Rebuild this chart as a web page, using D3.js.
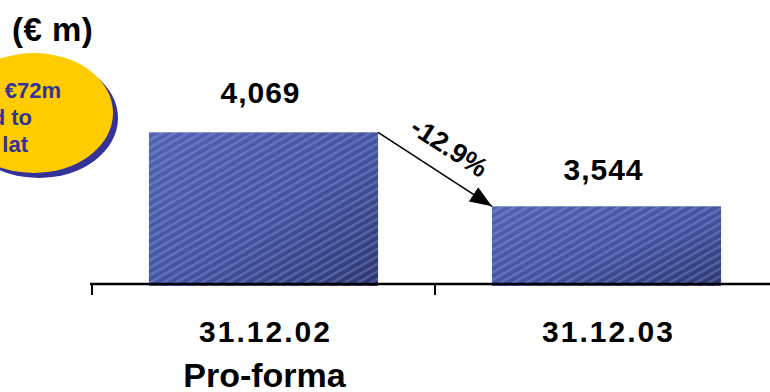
<!DOCTYPE html>
<html>
<head>
<meta charset="utf-8">
<script src="https://cdn.jsdelivr.net/npm/d3@7"></script>
<style>
  html, body { margin: 0; padding: 0; background: #fff; }
  svg { display: block; font-family: Arial, "Liberation Sans", sans-serif; }
</style>
</head>
<body>
<svg id="chart" width="770" height="392"></svg>
<script>
// Gross loans (€ m) at the two reporting dates
const categories = ["31.12.02", "31.12.03"];
const subLabels = ["Pro-forma", ""];
const values = [4069, 3544];
const valueLabels = ["4,069", "3,544"];
const changeLabel = "-12.9%";
const unitLabel = "(€ m)";
const noteLines = ["€72m", "d to", "lat"];

const svg = d3.select("#chart");
const W = 770, H = 392;

const x = d3.scaleBand()
  .domain(categories)
  .range([92, 778])
  .paddingInner(0.332)
  .paddingOuter(0.166);

const y = d3.scaleLinear()
  .domain([3000, 4500])
  .range([283, 71.6]);

const defs = svg.append("defs");

// shaded bar body: lighter at top-left, darker towards bottom-right
const grad = defs.append("linearGradient")
  .attr("id", "barGrad")
  .attr("x1", 0).attr("y1", 0).attr("x2", 1).attr("y2", 1);
grad.append("stop").attr("offset", "0%").attr("stop-color", "#5163b3");
grad.append("stop").attr("offset", "55%").attr("stop-color", "#4253a0");
grad.append("stop").attr("offset", "100%").attr("stop-color", "#2c3670");

// fine diagonal hatching on top of the shading
const pat = defs.append("pattern")
  .attr("id", "hatch")
  .attr("patternUnits", "userSpaceOnUse")
  .attr("width", 8).attr("height", 6.5)
  .attr("patternTransform", "rotate(-30)");
pat.append("rect")
  .attr("x", 0).attr("y", 0).attr("width", 8).attr("height", 2.4)
  .attr("fill", "#a9b6ee").attr("opacity", 0.3);

const arrowHead = defs.append("marker")
  .attr("id", "arrowHead")
  .attr("viewBox", "0 0 22 17")
  .attr("refX", 22).attr("refY", 8.5)
  .attr("markerWidth", 22).attr("markerHeight", 17)
  .attr("markerUnits", "userSpaceOnUse")
  .attr("orient", "auto");
arrowHead.append("path").attr("d", "M0,0 L22,8.5 L0,17 Z").attr("fill", "#000");

// callout ellipse with drop shadow (partly beyond the left edge)
const note = svg.append("g");
note.append("ellipse")
  .attr("cx", 39).attr("cy", 118).attr("rx", 79).attr("ry", 60)
  .attr("fill", "#333399");
note.append("ellipse")
  .attr("cx", 34).attr("cy", 113).attr("rx", 79).attr("ry", 60)
  .attr("fill", "#ffcc00");
note.selectAll("text.note")
  .data(noteLines)
  .join("text")
  .attr("class", "note")
  .attr("x", (d, i) => [61, 32, 28][i])
  .attr("y", (d, i) => 98 + i * 27)
  .attr("text-anchor", "end")
  .attr("font-size", 22)
  .attr("font-weight", "bold")
  .attr("fill", "#333399")
  .text(d => d);

// unit caption
svg.append("text")
  .attr("x", 12).attr("y", 41)
  .attr("font-size", 33)
  .attr("font-weight", "bold")
  .attr("letter-spacing", 0.5)
  .attr("fill", "#000")
  .text(unitLabel);

const base = y.range()[0];

// bars
const bars = svg.append("g");
bars.selectAll("rect.body")
  .data(values)
  .join("rect")
  .attr("class", "body")
  .attr("x", (d, i) => x(categories[i]))
  .attr("y", d => y(d))
  .attr("width", x.bandwidth())
  .attr("height", d => base + 3 - y(d))
  .attr("fill", "url(#barGrad)");
bars.selectAll("rect.hatch")
  .data(values)
  .join("rect")
  .attr("class", "hatch")
  .attr("x", (d, i) => x(categories[i]))
  .attr("y", d => y(d))
  .attr("width", x.bandwidth())
  .attr("height", d => base + 3 - y(d))
  .attr("fill", "url(#hatch)");

// category axis
const step = x.step();
const axis = svg.append("g");
axis.append("line")
  .attr("x1", x.range()[0] - 2).attr("x2", W)
  .attr("y1", base + 1).attr("y2", base + 1)
  .attr("stroke", "#000").attr("stroke-width", 2.7);
axis.selectAll("line.tick")
  .data(d3.range(categories.length + 1))
  .join("line")
  .attr("class", "tick")
  .attr("x1", i => x.range()[0] + i * step)
  .attr("x2", i => x.range()[0] + i * step)
  .attr("y1", base).attr("y2", base + 12)
  .attr("stroke", "#000").attr("stroke-width", 2);

// category labels
axis.selectAll("text.cat")
  .data(categories)
  .join("text")
  .attr("class", "cat")
  .attr("x", d => x(d) + x.bandwidth() / 2 + 2)
  .attr("y", 342)
  .attr("text-anchor", "middle")
  .attr("font-size", 30)
  .attr("font-weight", "bold")
  .attr("letter-spacing", 2)
  .text(d => d);
axis.selectAll("text.sub")
  .data(subLabels)
  .join("text")
  .attr("class", "sub")
  .attr("x", (d, i) => x(categories[i]) + x.bandwidth() / 2 + 1)
  .attr("y", 387)
  .attr("text-anchor", "middle")
  .attr("font-size", 34)
  .attr("font-weight", "bold")
  .text(d => d);

// value labels above the bars
svg.selectAll("text.val")
  .data(values)
  .join("text")
  .attr("class", "val")
  .attr("x", (d, i) => x(categories[i]) + x.bandwidth() / 2 - 3)
  .attr("y", (d, i) => y(d) - (i === 0 ? 29 : 26))
  .attr("text-anchor", "middle")
  .attr("font-size", 30)
  .attr("font-weight", "bold")
  .attr("letter-spacing", 1)
  .text((d, i) => valueLabels[i]);

// change arrow between the bar tops
const x0 = x(categories[0]) + x.bandwidth(), y0 = y(values[0]);
const x1 = x(categories[1]), y1 = y(values[1]);
svg.append("line")
  .attr("x1", x0).attr("y1", y0)
  .attr("x2", x1).attr("y2", y1)
  .attr("stroke", "#000").attr("stroke-width", 1.6)
  .attr("marker-end", "url(#arrowHead)");

const ang = Math.atan2(y1 - y0, x1 - x0);
const mx = (x0 + x1) / 2, my = (y0 + y1) / 2;
const off = 17;
svg.append("text")
  .attr("transform", `translate(${mx + off * Math.sin(ang)},${my - off * Math.cos(ang)}) rotate(${ang * 180 / Math.PI})`)
  .attr("text-anchor", "middle")
  .attr("font-size", 27)
  .attr("font-weight", "bold")
  .text(changeLabel);
</script>
</body>
</html>
